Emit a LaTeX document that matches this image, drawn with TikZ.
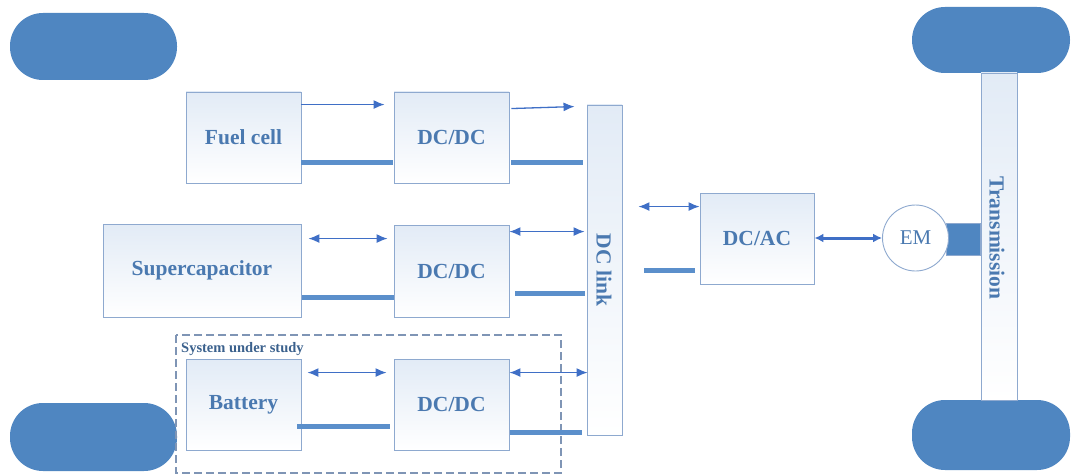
\documentclass[tikz,border=0pt]{standalone}
\usepackage{fontspec}
\setmainfont{Liberation Serif}
\usetikzlibrary{arrows.meta,calc}
\definecolor{wheelc}{HTML}{4F86C1}
\definecolor{busc}{HTML}{5B8FCB}
\definecolor{arrc}{HTML}{3F6FC6}
\definecolor{boxc}{HTML}{8EA9CF}
\definecolor{txtc}{HTML}{4A79B0}
\definecolor{dashc}{HTML}{7F95B5}
\definecolor{tintc}{HTML}{E2EBF6}
\tikzset{
  bigfont/.style={font=\fontsize{21.5}{24}\selectfont\bfseries, text=txtc},
  blk/.style={draw=boxc, line width=0.9pt, top color=tintc, bottom color=white, inner sep=0pt, bigfont},
  wheel/.style={fill=wheelc, draw=none, rounded corners=33},
  bus/.style={busc, line width=4.5pt},
  sarr/.style={arrc, line width=1.3pt, -{Latex[length=11pt,width=9pt]}},
  darr/.style={arrc, line width=1.3pt, {Latex[length=11pt,width=9pt]}-{Latex[length=11pt,width=9pt]}},
}
\begin{document}
\begin{tikzpicture}[x=1pt,y=-1pt]
\useasboundingbox (0,0) rectangle (1073,476);
% wheels
\fill[wheel] (10,13) rectangle (177,80);
\fill[wheel] (10,403) rectangle (177,471);
\fill[wheel] (912,7) rectangle (1070,73);
\fill[wheel] (912,400) rectangle (1070,470);
% transmission
\node[blk, minimum width=36pt, minimum height=327pt] (tr) at (999,236.5) {};
\node[rotate=-90, bigfont] at (997,238) {Transmission};
% EM
\node[draw=boxc, fill=wheelc, minimum width=34pt, minimum height=32pt, inner sep=0pt, anchor=east] (sq) at (tr.west |- 0,239) {};
\node[circle, draw=boxc, line width=0.9pt, fill=white, minimum size=66pt, inner sep=0pt,
  font=\fontsize{21}{23}\selectfont, text=txtc] (em) at (915.5,238) {EM};
% blocks
\node[blk, minimum width=115pt, minimum height=91pt] (fc) at (243.5,137.5) {Fuel cell};
\node[blk, minimum width=115pt, minimum height=91pt] (dc1) at (451.5,137.5) {DC/DC};
\node[blk, minimum width=198pt, minimum height=93pt] (sc) at (202,270.5) {Supercapacitor};
\node[blk, minimum width=115pt, minimum height=92pt] (dc2) at (451.5,271) {DC/DC};
\node[blk, minimum width=115pt, minimum height=91pt] (bat) at (243.5,404.5) {Battery};
\node[blk, minimum width=115pt, minimum height=91pt] (dc3) at (451.5,404.5) {DC/DC};
\node[blk, minimum width=35pt, minimum height=330pt] (link) at (604.5,270) {};
\node[rotate=-90, bigfont] at (604,270) {DC link};
\node[blk, minimum width=114pt, minimum height=91pt] (dcac) at (757,238.5) {DC/AC};
% dashed system box
\draw[dashc, line width=1.1pt, dash pattern=on 8pt off 4pt] (176,335) rectangle (561,473);
\node[anchor=west, font=\fontsize{14.5}{16}\selectfont\bfseries, text=txtc!80!black, inner sep=0pt] (sys) at (181,349) {System under study};
% arrows
\draw[sarr] ($(fc.north east)+(0,13)$) -- ($(dc1.north west)+(-9,13)$);
\draw[sarr] ($(dc1.north east)+(2,17)$) -- ($(link.north west)+(-12,2)$);
\draw[darr] ($(sc.north east)+(7,15)$) -- ($(dc2.north west)+(-6,14)$);
\draw[darr] ($(dc2.north east)+(0,7)$) -- ($(link.north west |- dc2.north)+(-2,7)$);
\draw[darr] ($(bat.north east)+(6,14)$) -- ($(dc3.north west)+(-7,14)$);
\draw[darr] ($(dc3.north east)+(0,14)$) -- ($(link.west |- dc3.north)+(1,14)$);
\draw[darr] ($(link.east |- dcac.north)+(16,14)$) -- ($(dcac.north west)+(0,14)$);
\draw[arrc, line width=3pt, {Latex[length=9pt,width=9pt]}-{Latex[length=9pt,width=9pt]}] (dcac.east |- em.west) -- (em.west);
% bus lines
\draw[bus] ($(fc.south east)+(0,-21)$) -- ($(dc1.south west)+(-1,-21)$);
\draw[bus] ($(dc1.south east)+(2,-21)$) -- ($(link.west |- dc1.south)+(-4,-21)$);
\draw[bus] ($(sc.south east)+(1,-20)$) -- ($(dc2.south west)+(0,-20)$);
\draw[bus] ($(dc2.south east)+(6,-24)$) -- ($(link.west |- dc2.south)+(-2,-24)$);
\draw[bus] ($(bat.south east)+(-4,-24)$) -- ($(dc3.south west)+(-4,-24)$);
\draw[bus] ($(dc3.south east)+(1,-18)$) -- ($(link.west |- dc3.south)+(-5,-18)$);
\draw[bus] ($(link.east |- dcac.south)+(22,-14)$) -- ($(dcac.south west)+(-5,-14)$);
\end{tikzpicture}
\end{document}
